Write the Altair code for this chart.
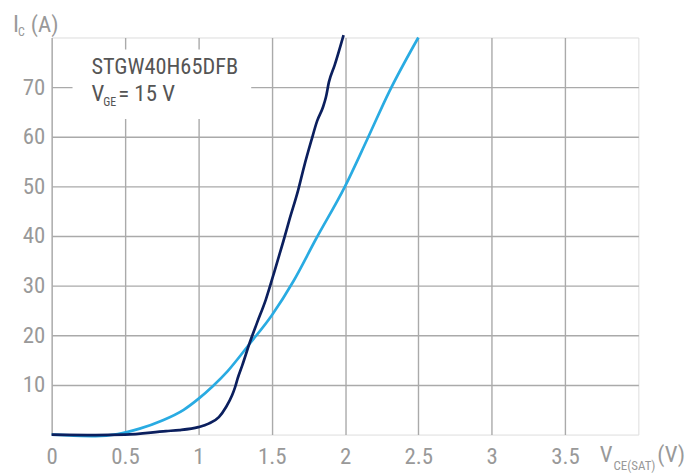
import altair as alt
import pandas as pd

# Light blue curve
light_x = [0, 0.15, 0.3, 0.45, 0.6, 0.75, 0.9, 1.0, 1.1, 1.2, 1.35, 1.5, 1.65, 1.8, 2.0, 2.15, 2.3, 2.5]
light_y = [0, -0.2, -0.3, 0.1, 1.2, 2.8, 5.0, 7.2, 9.8, 12.8, 18.3, 24.0, 31.0, 39.3, 50.0, 59.4, 69.0, 80.0]

# Dark navy curve
dark_x = [0, 0.3, 0.5, 0.78, 0.87, 1.0, 1.07, 1.14, 1.19, 1.23, 1.25, 1.27, 1.3, 1.35, 1.4, 1.46,
          1.52, 1.58, 1.62, 1.68, 1.72, 1.77, 1.81, 1.85, 1.87, 1.89, 1.93, 1.99]
dark_y = [0, -0.1, 0, 0.7, 0.9, 1.5, 2.2, 3.5, 5.6, 7.9, 9.5, 11.5, 14.0, 18.5, 22.5, 27.2,
          33.0, 39.0, 43.2, 49.2, 53.9, 59.2, 63.2, 66.0, 68.0, 71.0, 74.5, 80.5]

x_ticks = [0, 0.5, 1, 1.5, 2, 2.5, 3, 3.5]
y_ticks = [10, 20, 30, 40, 50, 60, 70]

FONT = "'Roboto Condensed', Roboto, sans-serif"
GREY = "#999999"
TXT = "#555555"

df = pd.concat([
    pd.DataFrame({"v": light_x, "i": light_y, "s": "light"}),
    pd.DataFrame({"v": dark_x, "i": dark_y, "s": "dark"}),
])

xs = alt.Scale(domain=[0, 4], nice=False, zero=False)
ys = alt.Scale(domain=[0, 80], nice=False, zero=False)

lines = alt.Chart(df).mark_line(strokeWidth=2.7, interpolate="monotone").encode(
    x=alt.X("v:Q", scale=xs, axis=alt.Axis(
        values=x_ticks, labelExpr="datum.value", title=None, grid=True,
        gridColor="#aaaaaa", gridWidth=1.4, domain=False, ticks=False,
        labelFlush=False, labelOverlap=False,
        labelFontSize=23, labelColor=GREY, labelPadding=11, labelFont=FONT)),
    y=alt.Y("i:Q", scale=ys, axis=alt.Axis(
        values=y_ticks, title=None, grid=True, gridColor="#aaaaaa", gridWidth=1.4,
        domain=False, ticks=False, labelFontSize=23, labelColor=GREY,
        labelFlush=False, labelOverlap=False,
        labelPadding=7, labelFont=FONT)),
    color=alt.Color("s:N", scale=alt.Scale(domain=["light", "dark"],
                                           range=["#29abe2", "#0b1f5e"]), legend=None),
    detail="s:N",
)

box = alt.Chart(pd.DataFrame({"a": [0]})).mark_rect(color="white").encode(
    x=alt.value(21), x2=alt.value(201), y=alt.value(12), y2=alt.value(82))


def txt(t, x, y, size, color):
    return alt.Chart(pd.DataFrame({"t": [t]})).mark_text(
        align="left", baseline="alphabetic", fontSize=size, font=FONT, color=color
    ).encode(text="t:N", x=alt.value(x), y=alt.value(y))


texts = [
    txt("STGW40H65DFB", 40, 37, 22.5, TXT),
    txt("V", 40, 64, 23, TXT),
    txt("GE", 52, 69, 12, TXT),
    txt("= 15 V", 67, 64, 23, TXT),
    txt("I", -39, -6, 24, GREY),
    txt("C", -34, -1, 12, GREY),
    txt("(A)", -21, -6, 23, GREY),
    txt("V", 552, 428, 23, GREY),
    txt("CE(SAT)", 566, 436, 13, GREY),
    txt("(V)", 610, 428, 23, GREY),
]

chart = alt.layer(box, lines, *texts).properties(
    width=591, height=400,
    autosize=alt.AutoSizeParams(type="none"),
    padding={"left": 44, "top": 28, "right": 52, "bottom": 38},
).configure_view(stroke="#9a9a9a", strokeWidth=3).configure(font=FONT)

chart.save("out.html", embed_options={"renderer": "svg", "actions": False})
